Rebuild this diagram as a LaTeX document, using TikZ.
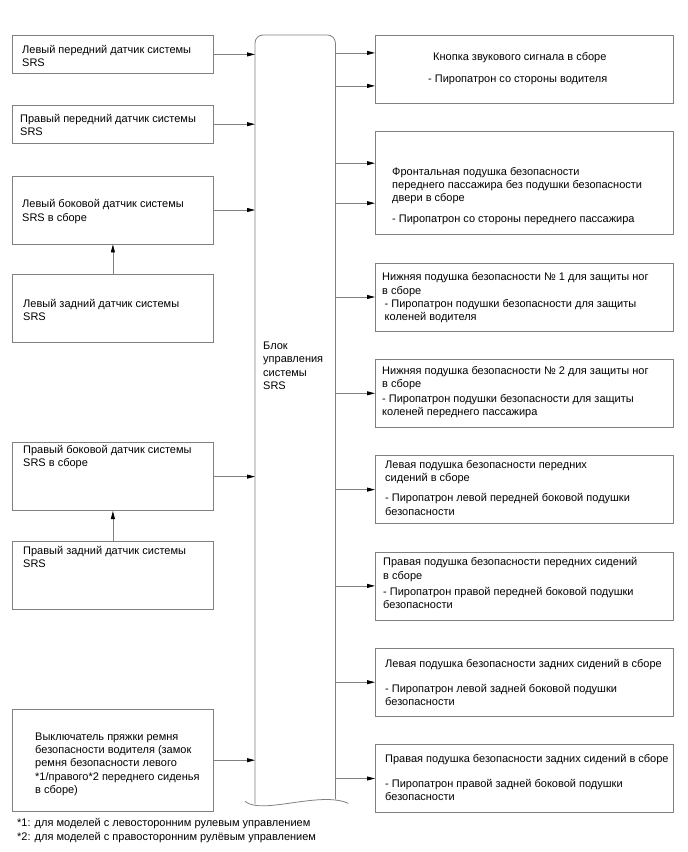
\documentclass[tikz,border=0pt]{standalone}
\usepackage{fontspec}
\setmainfont{Liberation Sans}
\usetikzlibrary{positioning, arrows.meta}
\definecolor{srsgray}{RGB}{128,128,128}

\begin{document}
\begin{tikzpicture}[
    x=1pt, y=-1pt,
    node distance = 27.5pt,
    lbox/.style = {draw=srsgray, line width=0.8pt, minimum width=201pt,
                   minimum height=68pt, inner sep=0pt},
    rbox/.style = {draw=srsgray, line width=0.8pt, minimum width=298pt,
                   minimum height=68pt, inner sep=0pt},
    txt/.style = {anchor=north west, inner sep=0pt, align=left,
                  font=\fontsize{11}{13.2}\selectfont},
    arr/.style = {-{Triangle[length=8pt, width=4pt, color=black]},
                  srsgray, line width=0.8pt},
  ]
    \useasboundingbox (0,0) rectangle (688,852);

    % sensors
    \node[lbox, minimum height=38pt, anchor=north west] (lb1) at (12,35) {};
    \node[lbox, minimum height=38pt, below=31pt of lb1] (lb2) {};
    \node[lbox, below=32pt of lb2] (lb3) {};
    \node[lbox, below=30pt of lb3] (lb4) {};
    \node[lbox, below=99pt of lb4] (lb5) {};
    \node[lbox, below=30pt of lb5] (lb6) {};
    \node[lbox, minimum height=102pt, below=99pt of lb6] (lb7) {};

    \node[txt] (t-lb1) at ([shift={(10,10)}]lb1.north west)
      {Левый передний датчик системы\\SRS};
    \node[txt] (t-lb2) at ([shift={(8,9)}]lb2.north west)
      {Правый передний датчик системы\\SRS};
    \node[txt] (t-lb3) at ([shift={(10,24)}]lb3.north west)
      {Левый боковой датчик системы\\SRS в сборе};
    \node[txt] (t-lb4) at ([shift={(11,25)}]lb4.north west)
      {Левый задний датчик системы\\SRS};
    \node[txt] (t-lb5) at ([shift={(11,3)}]lb5.north west)
      {Правый боковой датчик системы\\SRS в сборе};
    \node[txt] (t-lb6) at ([shift={(11,5)}]lb6.north west)
      {Правый задний датчик системы\\SRS};
    \node[txt] (t-lb7) at ([shift={(23,24)}]lb7.north west)
      {Выключатель пряжки ремня\\безопасности водителя (замок\\ремня безопасности левого\\*1/правого*2 переднего сиденья\\в сборе)};

    % control unit
    \node[minimum width=80pt, minimum height=768pt, inner sep=0pt,
          anchor=north west] (ecu) at (255,35) {};
    \draw[srsgray, line width=0.8pt, rounded corners=8pt]
      ([yshift=-1pt]ecu.south west) -- (ecu.north west)
      -- (ecu.north east) -- ([yshift=4pt]ecu.south east);
    \draw[srsgray, line width=0.8pt]
      ([shift={(-10,-2)}]ecu.south west)
      .. controls ([shift={(7,12)}]ecu.south west)
      and ([shift={(-15,-13)}]ecu.south east)
      .. ([shift={(13,0)}]ecu.south east);
    \node[txt] (t-ecu) at ([shift={(8,307)}]ecu.north west)
      {Блок\\управления\\системы\\SRS};

    % airbags
    \node[rbox, anchor=north west] (rb1) at (375,35) {};
    \node[rbox, minimum height=103pt, below=of rb1] (rb2) {};
    \node[rbox, below=of rb2] (rb3) {};
    \node[rbox, below=of rb3] (rb4) {};
    \node[rbox, below=of rb4] (rb5) {};
    \node[rbox, below=of rb5] (rb6) {};
    \node[rbox, below=of rb6] (rb7) {};
    \node[rbox, below=of rb7] (rb8) {};

    \node[txt] (t-rb1) at ([shift={(53,17)}]rb1.north west)
      {\hspace*{5pt}Кнопка звукового сигнала в сборе\\[8.8pt]- Пиропатрон со стороны водителя};
    \node[txt] (t-rb2) at ([shift={(17,36)}]rb2.north west)
      {Фронтальная подушка безопасности\\переднего пассажира без подушки безопасности\\двери в сборе\\[7pt]- Пиропатрон со стороны переднего пассажира};
    \node[txt] (t-rb3) at ([shift={(7,10)}]rb3.north west)
      {Нижняя подушка безопасности № 1 для защиты ног\\в сборе\\\hspace*{2.5pt}- Пиропатрон подушки безопасности для защиты\\\hspace*{2.5pt}коленей водителя};
    \node[txt] (t-rb4) at ([shift={(7,7)}]rb4.north west)
      {Нижняя подушка безопасности № 2 для защиты ног\\в сборе\\[2pt]- Пиропатрон подушки безопасности для защиты\\коленей переднего пассажира};
    \node[txt] (t-rb5) at ([shift={(10,5)}]rb5.north west)
      {Левая подушка безопасности передних\\сидений в сборе\\[7pt]- Пиропатрон левой передней боковой подушки\\безопасности};
    \node[txt] (t-rb6) at ([shift={(8,6)}]rb6.north west)
      {Правая подушка безопасности передних сидений\\в сборе\\[3pt]- Пиропатрон правой передней боковой подушки\\безопасности};
    \node[txt] (t-rb7) at ([shift={(10,11)}]rb7.north west)
      {Левая подушка безопасности задних сидений в сборе\\[12pt]- Пиропатрон левой задней боковой подушки\\безопасности};
    \node[txt] (t-rb8) at ([shift={(10,10)}]rb8.north west)
      {Правая подушка безопасности задних сидений в сборе\\[12pt]- Пиропатрон правой задней боковой подушки\\безопасности};

    % footnotes
    \node[txt] (notes) at ([shift={(5,7)}]lb7.south west)
      {*1: для моделей с левосторонним рулевым управлением\\*2: для моделей с правосторонним рулёвым управлением};

    % sensors -> unit
    \foreach \b in {lb1, lb2, lb3, lb5, lb7}
      \draw[arr] (\b.east) -- (\b.east -| ecu.west);
    \draw[arr] (lb4) -- (lb3);
    \draw[arr] (lb6) -- (lb5);

    % unit -> airbags
    \coordinate (rb1-a) at ([yshift=16.5pt]rb1.west);
    \coordinate (rb1-b) at ([yshift=-16.5pt]rb1.west);
    \coordinate (rb2-a) at ([yshift=20pt]rb2.west);
    \coordinate (rb2-b) at ([yshift=-20pt]rb2.west);
    \foreach \c in {rb1-a, rb1-b, rb2-a, rb2-b, rb3, rb4, rb5, rb6, rb7, rb8}
      \draw[arr] (\c.west -| ecu.east) -- (\c.west);
\end{tikzpicture}
\end{document}
